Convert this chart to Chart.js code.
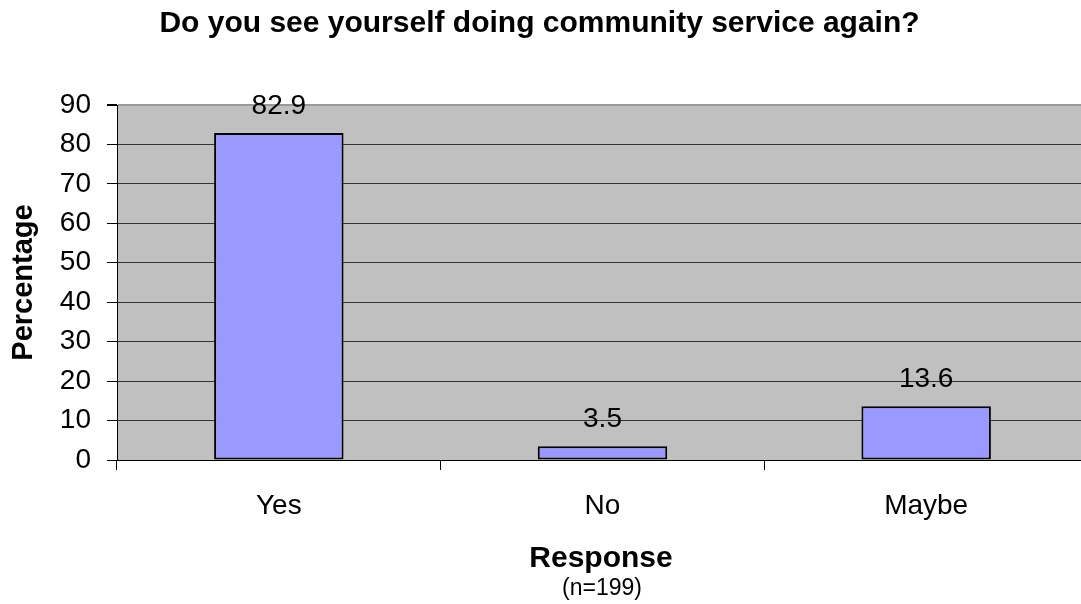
<!DOCTYPE html>
<html lang="en">
<head>
    <meta charset="UTF-8">
    <title>Community Service Again</title>
    <script src="https://cdn.jsdelivr.net/npm/chart.js"></script>
    <style>
        html, body {
            margin: 0;
            padding: 0;
            background: #ffffff;
            overflow: hidden;
        }
        #chart {
            display: block;
        }
    </style>
</head>
<body>

<canvas id="chart" width="1095" height="604"></canvas>

<script>
    // Data
    const responses = ['Yes', 'No', 'Maybe'];
    const percentages = [82.9, 3.5, 13.6];
    const yTicks = [0, 10, 20, 30, 40, 50, 60, 70, 80, 90];

    const chartTitle = 'Do you see yourself doing community service again?';
    const yTitle = 'Percentage';
    const xTitle = 'Response';
    const xNote = '(n=199)';

    const FONT = '"Liberation Sans", Arial, sans-serif';

    // Grey plot background + texts around the plot
    const decorations = {
        id: 'decorations',
        beforeDraw(chart) {
            const { ctx, chartArea } = chart;
            ctx.save();
            ctx.fillStyle = '#c0c0c0';
            ctx.fillRect(chartArea.left, chartArea.top,
                chartArea.right - chartArea.left, chartArea.bottom - chartArea.top);
            ctx.restore();
        },
        afterDraw(chart) {
            const { ctx, chartArea } = chart;
            ctx.save();
            ctx.fillStyle = '#000';
            ctx.textAlign = 'center';
            ctx.textBaseline = 'alphabetic';

            ctx.font = 'bold 30px ' + FONT;
            ctx.fillText(chartTitle, 539.5, 32);

            ctx.font = 'bold 30px ' + FONT;
            ctx.fillText(xTitle, 601, 567);

            ctx.font = '23px ' + FONT;
            ctx.fillText(xNote, 602, 595);

            ctx.save();
            ctx.translate(32, (chartArea.top + chartArea.bottom) / 2);
            ctx.rotate(-Math.PI / 2);
            ctx.font = 'bold 29px ' + FONT;
            ctx.fillText(yTitle, 0, 0);
            ctx.restore();

            // value labels above bars
            ctx.font = '28px ' + FONT;
            const meta = chart.getDatasetMeta(0);
            meta.data.forEach(function (bar, i) {
                ctx.fillText(String(percentages[i]), bar.x, bar.y - 19);
            });
            ctx.restore();
        }
    };

    const ctx = document.getElementById('chart').getContext('2d');
    const chart = new Chart(ctx, {
        type: 'bar',
        data: {
            labels: responses,
            datasets: [{
                data: percentages,
                backgroundColor: '#9999ff',
                borderColor: '#000000',
                borderWidth: 2,
                borderSkipped: false,
                barPercentage: 0.4,
                categoryPercentage: 1
            }]
        },
        options: {
            responsive: false,
            animation: false,
            layout: {
                padding: { left: 0, top: 105, right: 7, bottom: 0 }
            },
            plugins: {
                legend: { display: false },
                tooltip: { enabled: false },
                title: { display: false }
            },
            scales: {
                x: {
                    afterFit(scale) { scale.height = 144; },
                    grid: {
                        offset: true,
                        drawOnChartArea: false,
                        drawTicks: true,
                        tickLength: 10,
                        tickColor: '#000000'
                    },
                    border: { color: '#000000', width: 1 },
                    ticks: {
                        color: '#000000',
                        padding: 19,
                        font: { family: FONT, size: 28 }
                    }
                },
                y: {
                    min: 0,
                    max: 90,
                    afterFit(scale) { scale.width = 117; },
                    afterBuildTicks(scale) {
                        scale.ticks = yTicks.map(v => ({ value: v }));
                    },
                    grid: {
                        color: ctx => ctx.tick && ctx.tick.value === 90 ? '#999999' : '#333333',
                        lineWidth: ctx => ctx.tick && ctx.tick.value === 90 ? 2 : 1,
                        drawTicks: true,
                        tickLength: 10,
                        tickColor: '#000000'
                    },
                    border: { color: '#000000', width: 1 },
                    ticks: {
                        color: '#000000',
                        padding: 16,
                        font: { family: FONT, size: 28 }
                    }
                }
            }
        },
        plugins: [decorations]
    });
</script>

</body>
</html>
